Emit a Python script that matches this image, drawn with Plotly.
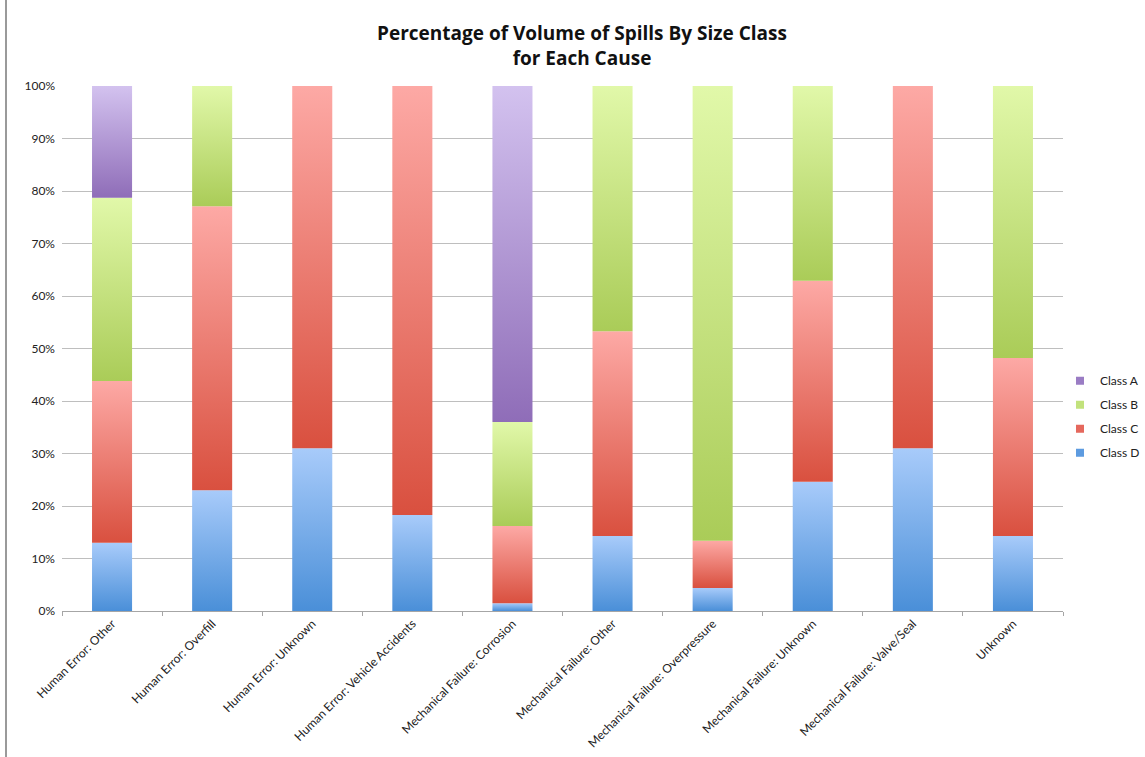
import plotly.graph_objects as go

# Causes (x categories)
causes = [
    "Human Error: Other",
    "Human Error: Overfill",
    "Human Error: Unknown",
    "Human Error: Vehicle Accidents",
    "Mechanical Failure: Corrosion",
    "Mechanical Failure: Other",
    "Mechanical Failure: Overpressure",
    "Mechanical Failure: Unknown",
    "Mechanical Failure: Valve/Seal",
    "Unknown",
]

# Share of spill volume (%) per size class for each cause
class_d = [13.0, 23.0, 31.0, 18.3, 1.5, 14.3, 4.4, 24.6, 31.0, 14.3]
class_c = [30.8, 54.1, 69.0, 81.7, 14.7, 39.0, 9.0, 38.3, 69.0, 33.9]
class_b = [34.9, 22.9, 0.0, 0.0, 19.8, 46.7, 86.6, 37.1, 0.0, 51.8]
class_a = [21.3, 0.0, 0.0, 0.0, 64.0, 0.0, 0.0, 0.0, 0.0, 0.0]

y_ticks = [0, 10, 20, 30, 40, 50, 60, 70, 80, 90, 100]

# stacking order bottom -> top, with (dark bottom, light top) gradient colours
series = [
    ("Class D", class_d, "#4A8FD8", "#A8CBFA", "#5D9BE0"),
    ("Class C", class_c, "#D9503F", "#FDA9A5", "#E5685D"),
    ("Class B", class_b, "#AACC58", "#E1F8A9", "#C2E27C"),
    ("Class A", class_a, "#8F6DB8", "#D3C2EF", "#9A7CC4"),
]

BAR_W = 0.4
FONT = "Lato, 'Open Sans', sans-serif"

fig = go.Figure()

base = [0.0] * len(causes)
for name, vals, dark, light, _ in series:
    for i, v in enumerate(vals):
        if v <= 0:
            continue
        y0 = base[i] / 100.0
        y1 = (base[i] + v) / 100.0
        fig.add_trace(go.Scatter(
            x=[i - BAR_W / 2, i + BAR_W / 2, i + BAR_W / 2, i - BAR_W / 2, i - BAR_W / 2],
            y=[y0, y0, y1, y1, y0],
            mode="lines",
            line=dict(width=0),
            fill="toself",
            fillgradient=dict(type="vertical", colorscale=[[0, dark], [1, light]]),
            showlegend=False,
            hoverinfo="skip",
        ))
        base[i] += v

# legend entries, Class A on top
for name, vals, dark, light, swatch in reversed(series):
    fig.add_trace(go.Scatter(
        x=[None], y=[None], name=name, legendgroup=name,
        mode="markers",
        marker=dict(symbol="square", size=8, color=swatch),
        showlegend=True,
    ))

fig.update_layout(
    width=1145, height=757,
    margin=dict(l=62, r=82, t=86, b=146, autoexpand=False),
    paper_bgcolor="white",
    plot_bgcolor="white",
    font=dict(family=FONT, size=12, color="#222222"),
    title=dict(
        text="<b>Percentage of Volume of Spills By Size Class<br>for Each Cause</b>",
        x=582 / 1145, xanchor="center",
        y=1 - 40 / 757, yanchor="middle", yref="container",
        font=dict(family="'Open Sans', sans-serif", size=19, color="#111111"),
    ),
    legend=dict(
        x=0.997, xanchor="left", y=0.37, yanchor="middle",
        font=dict(family=FONT, size=12, color="#222222"),
        bgcolor="rgba(0,0,0,0)", tracegroupgap=5, itemwidth=30,
    ),
    xaxis=dict(
        range=[-0.5, 9.5],
        tickvals=list(range(len(causes))),
        ticktext=causes,
        tickangle=-45,
        ticks="",
        showgrid=False,
        zeroline=False,
        showline=True, linecolor="#A6A6A6", linewidth=1,
        minor=dict(tick0=0.5, dtick=1, ticks="outside", ticklen=4, tickcolor="#A6A6A6", showgrid=False),
        tickfont=dict(family=FONT, size=12, color="#222222"),
        fixedrange=True,
    ),
    yaxis=dict(
        range=[0, 1],
        tickvals=[t / 100 for t in y_ticks],
        ticktext=[f"{t}%" for t in y_ticks],
        showgrid=True, gridcolor="#BEBEBE", gridwidth=1,
        zeroline=False,
        showline=False,
        ticks="",
        ticklabelstandoff=6,
        tickfont=dict(family=FONT, size=12, color="#222222"),
        fixedrange=True,
    ),
    shapes=[
        dict(type="line", xref="paper", yref="paper",
             x0=-56 / 1001, x1=-56 / 1001, y0=-146 / 525, y1=611 / 525,
             line=dict(color="#9A9A9A", width=2)),
    ],
)

fig.write_html("out.html")
